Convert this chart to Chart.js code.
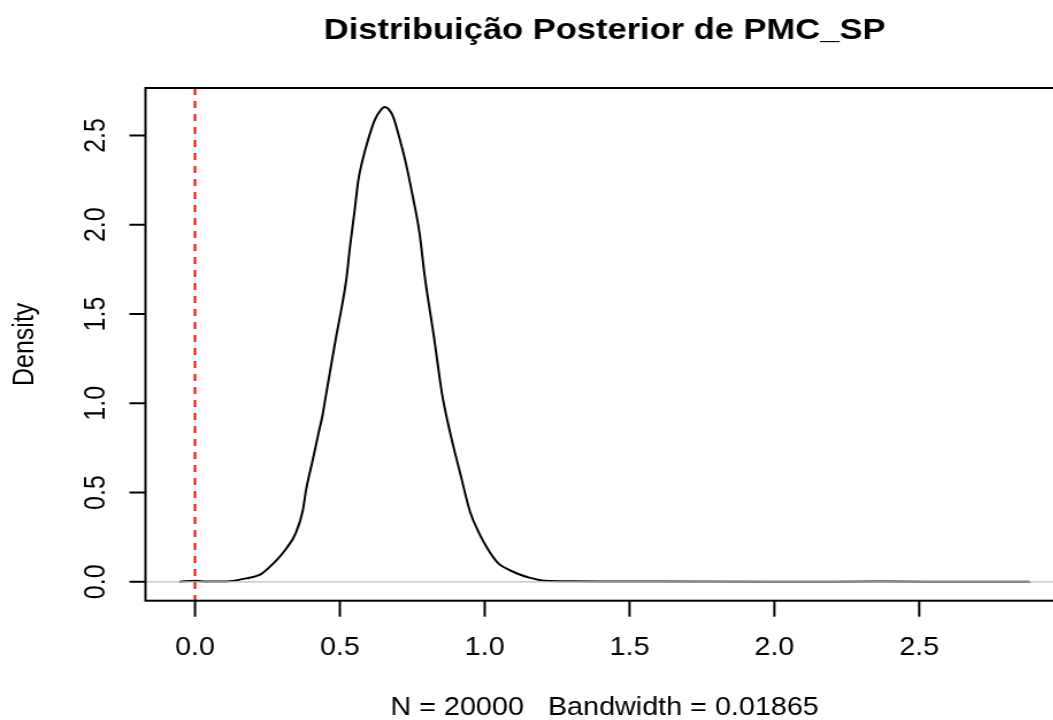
<!DOCTYPE html>
<html>
<head>
<meta charset="utf-8">
<title>Distribuição Posterior de PMC_SP</title>
<script src="https://cdn.jsdelivr.net/npm/chart.js@4/dist/chart.umd.min.js"></script>
<style>
    html, body { margin: 0; padding: 0; background: #fff; overflow: hidden; }
    /* the reference image is stretched sideways, so the whole canvas is too */
    #wrap { width: 940px; height: 720px; transform: scaleX(1.15); transform-origin: 0 0; }
</style>
</head>
<body>
<div id="wrap"><canvas id="densityChart" width="940" height="720"></canvas></div>
<script>
// Posterior density of PMC_SP
const densityX = [-0.054, 0.003, 0.038, 0.107, 0.176, 0.228, 0.268, 0.314, 0.349, 0.372,
    0.383, 0.406, 0.426, 0.439, 0.449, 0.485, 0.522, 0.535, 0.550, 0.564,
    0.575, 0.600, 0.620, 0.640, 0.654, 0.670, 0.685, 0.700, 0.725, 0.754,
    0.775, 0.794, 0.825, 0.852, 0.880, 0.915, 0.950, 0.982, 1.010, 1.046,
    1.074, 1.114, 1.150, 1.208, 1.300, 1.400, 1.600, 2.000, 2.400, 2.600, 2.882];
const densityY = [0.000, 0.006, 0.001, 0.002, 0.019, 0.043, 0.099, 0.184, 0.277, 0.399,
    0.511, 0.680, 0.830, 0.923, 1.017, 1.354, 1.691, 1.878, 2.066, 2.253,
    2.340, 2.490, 2.585, 2.640, 2.660, 2.645, 2.600, 2.520, 2.365, 2.140,
    1.953, 1.700, 1.370, 1.060, 0.840, 0.610, 0.390, 0.268, 0.185, 0.105,
    0.075, 0.045, 0.025, 0.006, 0.003, 0.002, 0.001, 0.0005, 0.001, 0.0005, 0.000];

const xTicks = [0, 0.5, 1, 1.5, 2, 2.5];
const yTicks = [0, 0.5, 1, 1.5, 2, 2.5];
const refLine = 0;

const titleText = 'Distribuição Posterior de PMC_SP';
const subText = 'N = 20000   Bandwidth = 0.01865';
const yTitle = 'Density';

const FONT = '"Liberation Sans", Arial, sans-serif';

// R-style box, ticks and labels drawn on top of the chart
const rStylePlugin = {
    id: 'rStyle',
    afterDatasetsDraw(chart) {
        const { ctx, chartArea: a, scales: { x, y } } = chart;
        ctx.save();

        // zero line
        const y0 = y.getPixelForValue(0);
        ctx.strokeStyle = '#bebebe';
        ctx.lineWidth = 1.2;
        ctx.beginPath();
        ctx.moveTo(a.left, y0);
        ctx.lineTo(a.right, y0);
        ctx.stroke();

        // red dashed reference line
        const xr = x.getPixelForValue(refLine);
        ctx.strokeStyle = '#ff0000';
        ctx.lineWidth = 2;
        ctx.setLineDash([7, 6]);
        ctx.beginPath();
        ctx.moveTo(xr, a.top);
        ctx.lineTo(xr, a.bottom);
        ctx.stroke();
        ctx.setLineDash([]);

        ctx.restore();
    },
    afterDraw(chart) {
        const { ctx, chartArea: a, scales: { x, y } } = chart;
        ctx.save();
        ctx.strokeStyle = '#000';
        ctx.fillStyle = '#000';
        ctx.lineWidth = 2;

        // box
        ctx.strokeRect(a.left, a.top, a.right - a.left, a.bottom - a.top);

        // x axis
        ctx.font = `25px ${FONT}`;
        ctx.textAlign = 'center';
        ctx.textBaseline = 'middle';
        xTicks.forEach(v => {
            const px = x.getPixelForValue(v);
            ctx.beginPath();
            ctx.moveTo(px, a.bottom);
            ctx.lineTo(px, a.bottom + 16);
            ctx.stroke();
            ctx.fillText(v.toFixed(1), px, 648);
        });

        // y axis
        yTicks.forEach(v => {
            const py = y.getPixelForValue(v);
            ctx.beginPath();
            ctx.moveTo(a.left, py);
            ctx.lineTo(a.left - 14, py);
            ctx.stroke();
            ctx.save();
            ctx.translate(84, py);
            ctx.rotate(-Math.PI / 2);
            ctx.fillText(v.toFixed(1), 0, 0);
            ctx.restore();
        });

        // axis title
        ctx.save();
        ctx.translate(22, (a.top + a.bottom) / 2);
        ctx.rotate(-Math.PI / 2);
        ctx.fillText(yTitle, 0, 0);
        ctx.restore();

        const cx = (a.left + a.right) / 2;

        // subtitle under the x axis
        ctx.font = `25px ${FONT}`;
        ctx.fillText(subText, cx, 708);

        // main title
        ctx.font = `bold 30px ${FONT}`;
        ctx.fillText(titleText, cx, 31);

        ctx.restore();
    }
};

const points = densityX.map((v, i) => ({ x: v, y: densityY[i] }));

const ctx = document.getElementById('densityChart').getContext('2d');
const densityChart = new Chart(ctx, {
    type: 'line',
    data: {
        datasets: [{
            label: 'Density',
            data: points,
            borderColor: '#000',
            borderWidth: 2,
            pointRadius: 0,
            fill: false,
            cubicInterpolationMode: 'monotone'
        }]
    },
    options: {
        responsive: false,
        animation: false,
        devicePixelRatio: 1,
        layout: { padding: { top: 88, right: 15, bottom: 0, left: 0 } },
        plugins: {
            legend: { display: false },
            title: { display: false },
            tooltip: { enabled: false }
        },
        scales: {
            x: {
                type: 'linear',
                min: -0.171,
                max: 2.999,
                grid: { display: false },
                border: { display: false },
                ticks: { display: false },
                afterFit: scale => { scale.height = 119.3; }
            },
            y: {
                min: -0.106,
                max: 2.766,
                grid: { display: false },
                border: { display: false },
                ticks: { display: false },
                afterFit: scale => { scale.width = 126.5; }
            }
        }
    },
    plugins: [rStylePlugin]
});
</script>
</body>
</html>
